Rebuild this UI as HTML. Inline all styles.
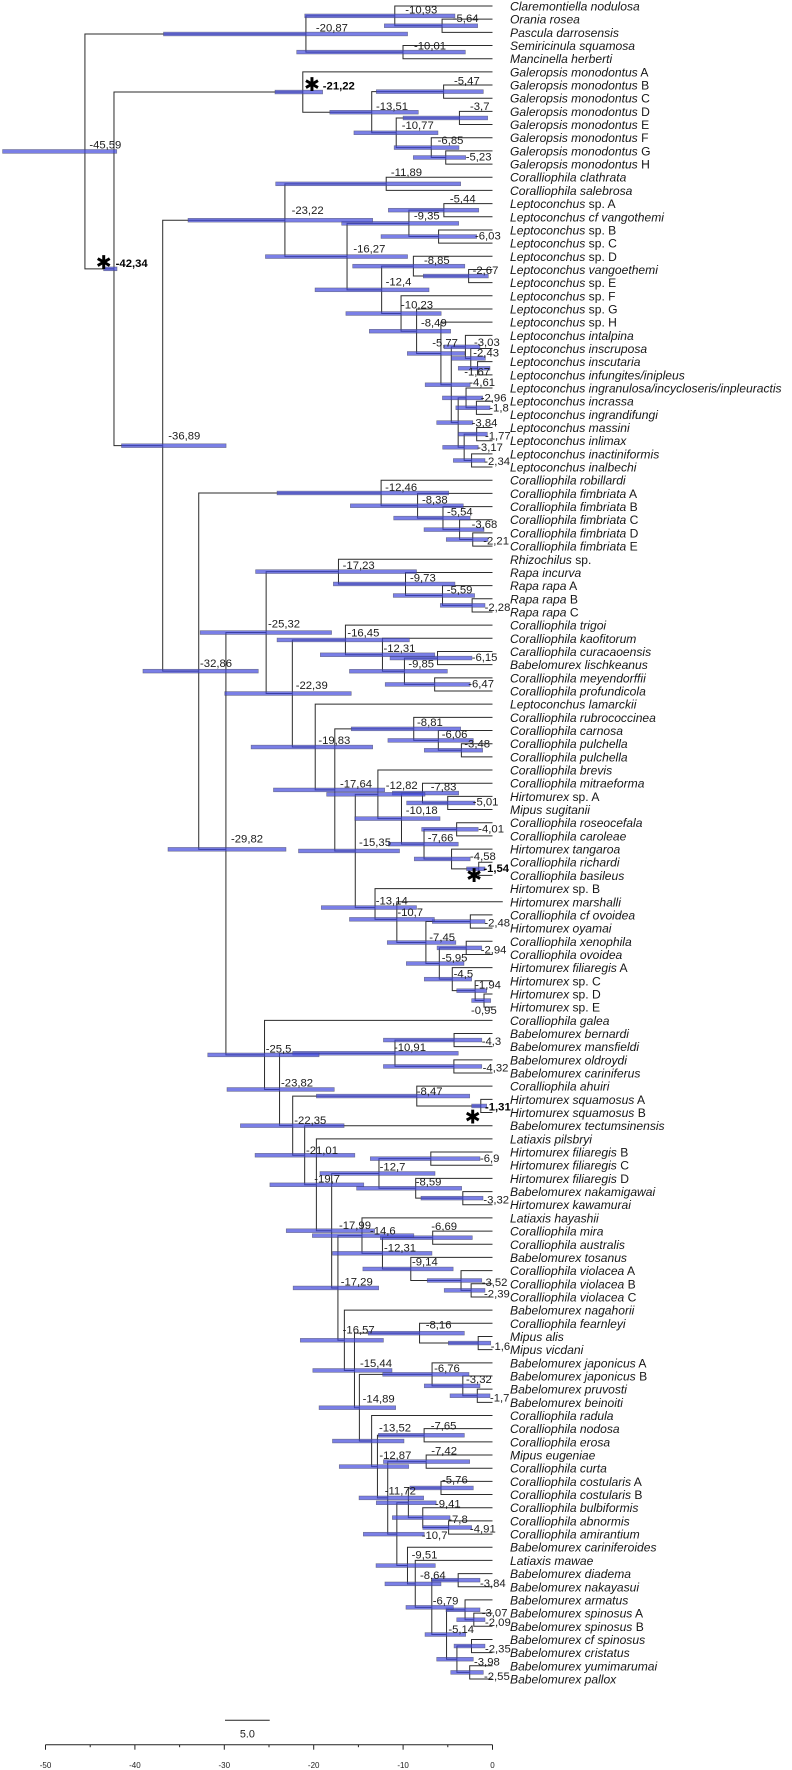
<!DOCTYPE html>
<html lang="en">
<head>
<meta charset="utf-8">
<title>Time-calibrated phylogeny of Coralliophilinae</title>
<style>
html,body{margin:0;padding:0;background:#fff;}
svg{display:block;}
text{font-family:"Liberation Sans",sans-serif;}
.taxon{font-size:12.1px;font-style:italic;fill:#161616;}
.taxon .up{font-style:normal;}
.age{font-size:11.3px;fill:#1c1c1c;}
.age.bold{font-weight:bold;fill:#000;}
.star{font-family:"DejaVu Sans",sans-serif;font-size:19px;font-weight:bold;fill:#000;text-anchor:middle;}
.tick{font-size:8px;fill:#222;text-anchor:middle;}
.scale{font-size:10.8px;fill:#222;text-anchor:middle;}
</style>
</head>
<body>
<svg id="tree" xmlns="http://www.w3.org/2000/svg" width="792" height="1770" viewBox="0 0 792 1770">
<g id="branches"></g>
<g id="bars"></g>
<g id="ages"></g>
<g id="taxa"></g>
<g id="axis"></g>
<g id="scalebar"></g>
</svg>
<script>
/* ---------- data ---------- */
const taxa = [
"Claremontiella nodulosa","Orania rosea","Pascula darrosensis","Semiricinula squamosa","Mancinella herberti",
"Galeropsis monodontus A","Galeropsis monodontus B","Galeropsis monodontus C","Galeropsis monodontus D","Galeropsis monodontus E","Galeropsis monodontus F","Galeropsis monodontus G","Galeropsis monodontus H",
"Coralliophila clathrata","Coralliophila salebrosa",
"Leptoconchus sp. A","Leptoconchus cf vangothemi","Leptoconchus sp. B","Leptoconchus sp. C","Leptoconchus sp. D","Leptoconchus vangoethemi","Leptoconchus sp. E","Leptoconchus sp. F","Leptoconchus sp. G","Leptoconchus sp. H",
"Leptoconchus intalpina","Leptoconchus inscruposa","Leptoconchus inscutaria","Leptoconchus infungites/inipleus","Leptoconchus ingranulosa/incycloseris/inpleuractis","Leptoconchus incrassa","Leptoconchus ingrandifungi","Leptoconchus massini","Leptoconchus inlimax","Leptoconchus inactiniformis","Leptoconchus inalbechi",
"Coralliophila robillardi","Coralliophila fimbriata A","Coralliophila fimbriata B","Coralliophila fimbriata C","Coralliophila fimbriata D","Coralliophila fimbriata E",
"Rhizochilus sp.","Rapa incurva","Rapa rapa A","Rapa rapa B","Rapa rapa C",
"Coralliophila trigoi","Coralliophila kaofitorum","Caralliophila curacaoensis","Babelomurex lischkeanus","Coralliophila meyendorffii","Coralliophila profundicola",
"Leptoconchus lamarckii","Coralliophila rubrococcinea","Coralliophila carnosa","Coralliophila pulchella","Coralliophila pulchella","Coralliophila brevis","Coralliophila mitraeforma",
"Hirtomurex sp. A","Mipus sugitanii","Coralliophila roseocefala","Coralliophila caroleae","Hirtomurex tangaroa","Coralliophila richardi","Coralliophila basileus",
"Hirtomurex sp. B","Hirtomurex marshalli","Coralliophila cf ovoidea","Hirtomurex oyamai","Coralliophila xenophila","Coralliophila ovoidea","Hirtomurex filiaregis A","Hirtomurex sp. C","Hirtomurex sp. D","Hirtomurex sp. E",
"Coralliophila galea","Babelomurex bernardi","Babelomurex mansfieldi","Babelomurex oldroydi","Babelomurex cariniferus","Coralliophila ahuiri","Hirtomurex squamosus A","Hirtomurex squamosus B","Babelomurex tectumsinensis","Latiaxis pilsbryi",
"Hirtomurex filiaregis B","Hirtomurex filiaregis C","Hirtomurex filiaregis D","Babelomurex nakamigawai","Hirtomurex kawamurai","Latiaxis hayashii","Coralliophila mira","Coralliophila australis","Babelomurex tosanus",
"Coralliophila violacea A","Coralliophila violacea B","Coralliophila violacea C","Babelomurex nagahorii","Coralliophila fearnleyi","Mipus alis","Mipus vicdani",
"Babelomurex japonicus A","Babelomurex japonicus B","Babelomurex pruvosti","Babelomurex beinoiti","Coralliophila radula","Coralliophila nodosa","Coralliophila erosa","Mipus eugeniae","Coralliophila curta",
"Coralliophila costularis A","Coralliophila costularis B","Coralliophila bulbiformis","Coralliophila abnormis","Coralliophila amirantium","Babelomurex cariniferoides","Latiaxis mawae","Babelomurex diadema","Babelomurex nakayasui",
"Babelomurex armatus","Babelomurex spinosus A","Babelomurex spinosus B","Babelomurex cf spinosus","Babelomurex cristatus","Babelomurex yumimarumai","Babelomurex pallox"
];

/* children per internal node, post-order: "t5" = taxon 5, "n3" = internal node 3 */
const nodeChildren = [
"t1 t2","t0 n0","t3 t4","n1 n2","t6 t7","t8 t9","t11 t12","t10 n6","n5 n7","n4 n8",
"t5 n9","t13 t14","t15 t16","t17 t18","n12 n13","t20 t21","t19 n15","t27 t28","t26 n17","t25 n18",
"t30 t31","t29 n20","t32 t33","t34 t35","n22 n23","n21 n24","n19 n25","t24 n26","t23 n27","t22 n28",
"n16 n29","n14 n30","n11 n31","t40 t41","t39 n33","t38 n34","t37 n35","t36 n36","t45 t46","t44 n38",
"t43 n39","t42 n40","t49 t50","t51 t52","n42 n43","t48 n44","t47 n45","t56 t57","t55 n47","t54 n48",
"t60 t61","t59 n50","t62 t63","t65 t66","t64 n53","n52 n54","n51 n55","t58 n56","t69 t70","t71 t72",
"t75 t76","t74 n60","t73 n61","n59 n62","n58 n63","t68 n64","t67 n65","n57 n66","n49 n67","t53 n68",
"n46 n69","n41 n70","t78 t79","t80 t81","n72 n73","t83 t84","t82 n75","t87 t88","t90 t91","t89 n78",
"n77 n79","t93 t94","t97 t98","t96 n82","t95 n83","n81 n84","t92 n85","t101 t102","t100 n87","t105 t106",
"t104 n89","t103 n90","t108 t109","t110 t111","t112 t113","t115 t116","t114 n95","n94 n96","t119 t120","t122 t123",
"t121 n99","t124 t125","t126 t127","n101 n102","n100 n103","n98 n104","t118 n105","t117 n106","n97 n107","n93 n108",
"n92 n109","t107 n110","n91 n111","n88 n112","t99 n113","n86 n114","n80 n115","t86 n116","t85 n117","n76 n118",
"n74 n119","t77 n120","n71 n121","n37 n122","n32 n123","n10 n124","n3 n125"
];

/* node age, Ma before present (printed with a comma decimal) */
const nodeAge = [
5.64,10.93,10.01,20.87,5.47,3.7,5.23,6.85,10.77,13.51,
21.22,11.89,5.44,6.03,9.35,2.67,8.85,1.67,2.43,3.03,
1.8,2.96,1.77,2.34,3.17,3.84,4.61,5.77,8.49,10.23,
12.4,16.27,23.22,2.21,3.68,5.54,8.38,12.46,2.28,5.59,
9.73,17.23,6.15,6.47,9.85,12.31,16.45,3.48,6.06,8.81,
5.01,7.83,4.01,1.54,4.58,7.66,10.18,12.82,2.48,2.94,
0.95,1.94,4.5,5.95,7.45,10.7,13.14,15.35,17.64,19.83,
22.39,25.32,4.3,4.32,10.91,1.31,8.47,6.9,3.32,8.59,
12.7,6.69,2.39,3.52,9.14,12.31,14.6,1.6,8.16,1.7,
3.32,6.76,7.65,7.42,5.76,4.91,7.8,9.41,3.84,2.09,
3.07,2.35,2.55,3.98,5.14,6.79,8.64,9.51,10.7,11.72,
12.87,13.52,14.89,15.44,16.57,17.29,17.99,19.7,21.01,22.35,
23.82,25.5,29.82,32.86,36.89,42.34,45.59
];

/* older end of each node's interval */
const ciOld = [
12.1,21,21.9,36.8,13,10,8.86,11,15.5,18.2,
24.33,24.25,11.65,12.47,16.87,7.74,15.64,3.83,4.6,5.43,
4.1,5.6,3.83,4.38,5.57,6.24,7.53,9.53,13.78,16.4,
19.85,25.4,34.06,5.17,7.66,11.05,15.9,24.1,5.84,11.1,
17.8,26.5,11.46,12,16,19.26,24.1,7.63,11.7,15.8,
9.6,11.2,7.92,2.9,8.75,11.66,15.4,18.55,6.73,6.2,
2.33,4,7.63,9.64,11.77,16,19.15,21.7,24.5,27,
29.95,32.7,12.2,12.2,22.35,2.33,19.7,13.67,8,15.2,
19.3,12.55,5.4,7.3,14.5,17.9,20.15,4.94,13.9,4.75,
7.63,12.28,12.77,12.2,9.23,7.8,11.2,13,6.8,4,
5.2,4.3,4.67,6.24,7.55,9.68,12.03,13.03,14.45,14.93,
17.14,17.9,19.4,20.1,21.5,22.3,23.07,24.9,26.56,28.2,
29.7,31.85,36.3,39.1,41.5,43.5,54.8
];

/* younger end of each node's interval */
const ciYoung = [
1.66,4.2,3.04,9.5,1.03,0.54,3,3.75,6.1,8.3,
19,3.56,1.54,1.77,3.78,0.47,3.1,0.28,0.8,1.4,
0.28,1.1,0.58,0.84,1.6,2.2,2.5,3.1,4.68,5.74,
7.1,9.5,13.4,0.5,0.95,2.5,3.27,4.9,0.84,2,
4.2,8.5,2.3,2.5,5.05,6.46,9.3,1.1,2.15,3.56,
1.96,3.78,1.6,0.84,2.5,3.83,5.87,7.55,0.84,1.2,
0.2,0.65,2.33,3.19,4.1,6.5,8.5,10.4,12.06,13.4,
15.8,18,1.2,1.2,3.83,0.65,2.55,1.4,1.06,3.45,
6.43,2.26,0.84,1.2,4.4,6.77,8.8,0.2,3.15,0.28,
1.4,2.63,3.15,2.55,2.15,2.33,4.75,6.3,1.4,0.84,
1.4,0.84,1.03,2.15,3,4.38,5.76,6.4,7.63,7.7,
9.37,9.9,10.83,11.24,12.2,12.73,13.18,14.4,15.4,16.6,
17.7,19.4,23.1,26.2,29.8,42,42.03
];

/* axis */
const axisMajorTicks = [-50,-40,-30,-20,-10,0];
const axisMinorTicks = [-45,-35,-25,-15,-5];
const scaleBarLength = [5.0];

/* nodes flagged with an asterisk and a bold label */
const starredNodes = [10,53,75,125];

/* one taxon runs past the present in the source figure */
const tipAgeOverride = {68:-1.15};

/* ---------- layout (not data) ---------- */
const labelDx = [
10.7,10.5,11,10,10.4,10.6,20,6.4,5.5,4.3,
20,4.7,6,36.4,5,4,10.6,-13.3,2.5,8.6,
12.9,14.7,8.3,12.7,13,13.5,18,-8.7,4.4,0,
4,6.3,6.7,10.5,12,4,4.4,4,12.5,4.2,
4.5,4.2,34.2,33.6,3.9,1,1.9,2.9,3.4,3.3,
25,8.2,21.6,4.6,18.5,3.7,4.2,7.8,14,14.5,
-13,0,1.4,2.4,3.4,0.5,0.7,3.7,5.2,3.1,
3.4,1.9,27.7,28.8,-1,4.2,0,49.2,20.5,0,
0.7,-1.4,12.9,20.7,1.2,1.6,8,12.5,6.2,12.7,
3.2,2,6.6,5.1,1,21.4,25.5,26.6,21.8,11.2,
16.7,13.5,14.3,17.1,1.8,0.9,4.7,4.2,24.9,-3,
1.9,7.4,3.3,5.5,-1.7,2.8,7.3,-2.1,1.3,1.6,
1.5,1.2,5.1,1.3,5.6,1.7,4.4
];
const labelDy = [
-3.6,-2.6,-2.7,-2.3,-7.3,-8,3.2,-3.6,-3.8,-2,
-2.7,-8,-7.5,2.8,-4,-2,-2.2,7.1,-1.7,-0.8,
3.9,3.8,5.2,4.5,3.7,4,1.3,-6.7,-4.5,-5.2,
-4.2,-4.3,-6,5,-1.5,-2.4,-2.4,-2,5.6,-2.2,
-2.3,-2.6,3,3.3,-3.9,-3,-3.3,-3,-2.4,-2.9,
2.7,-2.8,3.4,3.4,1,-2.8,-4.6,-5.3,5.2,5.4,
13.4,-2.4,-1.9,-1.8,-1.5,-3.3,-3,-4.9,-2.5,-2.9,
-4.3,-4.9,4.9,4.9,-2.3,4.5,-1.2,3.5,5.2,-2.6,
-2.8,-7.7,7,5.7,-3.3,-1.8,-1.2,6.9,-4.9,5.5,
-2.9,-2.1,-6,-7.3,-4.7,4.8,5.3,4.8,6.8,6.5,
6.6,6.4,7.6,6.5,-1.7,-2.7,-4.7,-7,5,-3.4,
-7.6,-9.3,-5,-3.4,-7,-2.6,-1.7,-2.3,-1.4,-1.5,
-2.8,-2.6,-6.6,-4.4,-6.3,-2,-3
];
const nodeNudgeY = {65:-2.8,66:3.6,122:5.6};
const starOffset = {10:[9.2,-8],53:[-4.7,6.1],75:[-8.1,10.5],125:[-10.3,-6.8]};

/* ---------- scales ---------- */
const PRESENT_X = 492.5, PX_PER_MA = 8.94;
function xOfAge(age){ return PRESENT_X - age * PX_PER_MA; }
function yOfTip(i){ return 6 + i * 13.173; }
const TAXON_X = 510, AXIS_Y = 1744.7;
const NS = "http://www.w3.org/2000/svg";
function mk(tag, parentId, attrs){
  const e = document.createElementNS(NS, tag);
  for (const k in attrs) e.setAttribute(k, attrs[k]);
  document.getElementById(parentId).appendChild(e);
  return e;
}

/* ---------- compute node positions ---------- */
const nodeY = [];
function childPos(ref){
  const idx = parseInt(ref.slice(1), 10);
  if (ref[0] === "t") {
    const a = (idx in tipAgeOverride) ? tipAgeOverride[idx] : 0;
    return {x: xOfAge(a), y: yOfTip(idx)};
  }
  return {x: xOfAge(nodeAge[idx]), y: nodeY[idx]};
}
nodeChildren.forEach(function(spec, n){
  const kids = spec.split(" ").map(childPos);
  nodeY[n] = (kids[0].y + kids[kids.length - 1].y) / 2 + (nodeNudgeY[n] || 0);
});

/* ---------- branches ---------- */
nodeChildren.forEach(function(spec, n){
  const nx = xOfAge(nodeAge[n]);
  spec.split(" ").map(childPos).forEach(function(k){
    const p = mk("path", "branches", {d: "M" + nx + " " + nodeY[n] + "V" + k.y + "H" + k.x, fill: "none", stroke: "#2b2b2b", "stroke-width": 1});
    
    
  });
});

/* ---------- confidence bars ---------- */
nodeAge.forEach(function(a, n){
  const x1 = xOfAge(ciOld[n]), x2 = xOfAge(ciYoung[n]);
  const r = mk("rect", "bars", {x: x1, y: nodeY[n] - 1.9, width: x2 - x1, height: 3.8, fill: "rgba(65,73,219,.7)", stroke: "rgba(70,70,90,.65)", "stroke-width": 0.6});
  
  
});

/* ---------- node age labels ---------- */
nodeAge.forEach(function(a, n){
  const bold = starredNodes.indexOf(n) >= 0;
  const t = mk("text", "ages", {x: xOfAge(a) + labelDx[n], y: nodeY[n] + labelDy[n], "class": bold ? "age bold" : "age"});
  t.textContent = "-" + String(a).replace(".", ",");
  
  
});

/* ---------- asterisks ---------- */
starredNodes.forEach(function(n){
  const o = starOffset[n];
  const s = mk("text", "ages", {x: xOfAge(nodeAge[n]) + o[0], y: nodeY[n] + o[1] + 7, "class": "star"});
  s.textContent = "\u2731";
  
  
});

/* ---------- taxon labels ---------- */
taxa.forEach(function(name, i){
  const t = mk("text", "taxa", {x: TAXON_X, y: yOfTip(i) + 4.5, "class": "taxon"});
  
  
  const m = name.match(/^(.*?)( sp\..*| [A-H])$/);
  if (m) {
    const a = document.createElementNS(NS, "tspan");
    a.textContent = m[1];
    t.appendChild(a);
    const b = document.createElementNS(NS, "tspan");
    b.setAttribute("class", "up");
    b.textContent = m[2];
    t.appendChild(b);
  } else {
    t.textContent = name;
  }
});

/* ---------- axis ---------- */
const axisLine = mk("line", "axis", {x1: xOfAge(50), x2: xOfAge(0), y1: AXIS_Y, y2: AXIS_Y, stroke: "#222", "stroke-width": 1});


axisMajorTicks.forEach(function(v){
  const l = mk("line", "axis", {x1: xOfAge(-v), x2: xOfAge(-v), y1: AXIS_Y, y2: AXIS_Y + 5, stroke: "#222", "stroke-width": 1});
  
  
  const t = mk("text", "axis", {x: xOfAge(-v), y: 1768, "class": "tick"});
  t.textContent = String(v);
  
  
});
axisMinorTicks.forEach(function(v){
  const l = mk("line", "axis", {x1: xOfAge(-v), x2: xOfAge(-v), y1: AXIS_Y, y2: AXIS_Y + 2.5, stroke: "#222", "stroke-width": 1});
  
  
});

/* ---------- scale bar ---------- */
const sbLeft = 225;
const sbLine = mk("line", "scalebar", {x1: sbLeft, x2: sbLeft + scaleBarLength[0] * PX_PER_MA, y1: 1720.3, y2: 1720.3, stroke: "#222", "stroke-width": 1});


const sbText = mk("text", "scalebar", {x: sbLeft + scaleBarLength[0] * PX_PER_MA / 2, y: 1737.3, "class": "scale"});
sbText.textContent = scaleBarLength[0].toFixed(1);


</script>
</body>
</html>
